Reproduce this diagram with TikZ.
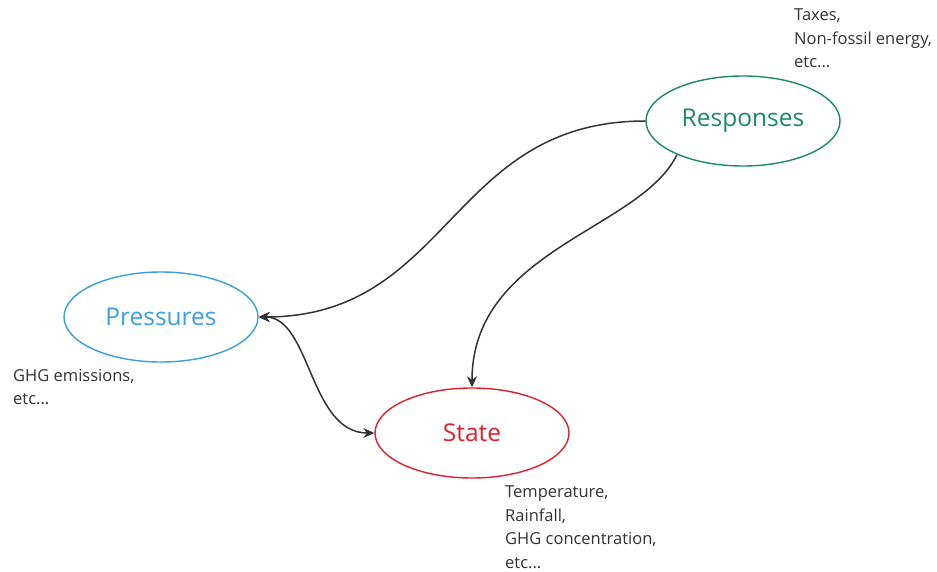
\documentclass[tikz,border=0pt]{standalone}
\usepackage{fontspec}
\setmainfont{Open Sans}
\usetikzlibrary{shapes.geometric,arrows.meta}
\definecolor{respgreen}{HTML}{1B8A6B}
\definecolor{presblue}{HTML}{3A9FE0}
\definecolor{statered}{HTML}{E0202A}
\definecolor{arrowgray}{HTML}{333333}
\definecolor{notegray}{HTML}{333333}
\begin{document}
\begin{tikzpicture}[x=1pt,y=-1pt,
  oval/.style={ellipse,draw,line width=1.4pt,minimum width=194pt,minimum height=90pt,inner sep=0pt,font=\fontsize{24.5}{28}\selectfont},
  note/.style={anchor=north west,align=left,inner sep=0pt,text=notegray,font=\fontsize{16.5}{23.5}\selectfont},
  tip/.style={-{Stealth[length=11pt,width=10pt]}},
  link/.style={draw=arrowgray,line width=1.5pt}]
\useasboundingbox (0,0) rectangle (937,572);
\node[oval,draw=respgreen,text=respgreen] (R) at (743,121) {\raisebox{-2pt}{Responses}};
\node[oval,draw=presblue,text=presblue] (P) at (161,317) {Pressures};
\node[oval,draw=statered,text=statered] (S) at (472,433) {State};
\node[note] (nR) at (794,9) {Taxes,\\Non-fossil energy,\\etc...};
\node[note] (nP) at (13,369) {GHG emissions,\\etc...};
\node[note] (nS) at (505,486) {Temperature,\\Rainfall,\\GHG concentration,\\etc...};
\draw[link,tip] (R.west) .. controls +(-196,0) and +(192,0) .. (P.east);
\draw[link,tip] (R.207) .. controls +(-36,75) and +(0,-138) .. (S.north);
\draw[link,{Stealth[length=11pt,width=10pt]}-{Stealth[length=11pt,width=10pt]}] (P.east) .. controls +(52,0) and +(-65,0) .. (S.west);
\end{tikzpicture}
\end{document}
